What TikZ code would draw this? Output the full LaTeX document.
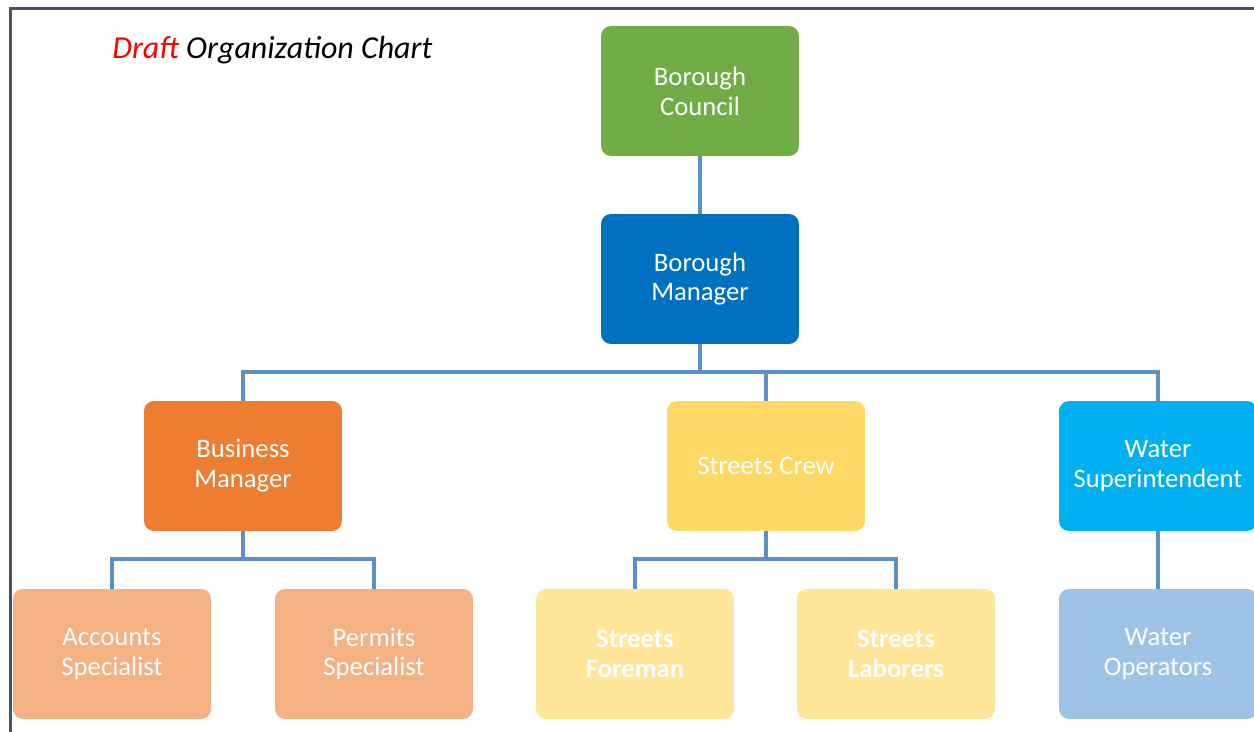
\documentclass[tikz,border=0pt]{standalone}
\usepackage{fontspec}
\setmainfont{Carlito}
\usepackage{xcolor}

\definecolor{frameline}{HTML}{44546A}
\definecolor{linkblue}{HTML}{5B8FC7}
\definecolor{councilgreen}{HTML}{70AD47}
\definecolor{managerblue}{HTML}{0070C0}
\definecolor{bizorange}{HTML}{ED7D31}
\definecolor{crewyellow}{HTML}{FFD966}
\definecolor{watercyan}{HTML}{00B0F0}
\definecolor{lightorange}{HTML}{F4B183}
\definecolor{lightyellow}{HTML}{FFE699}
\definecolor{lightblue}{HTML}{9DC3E6}

\begin{document}
\begin{tikzpicture}[x=0.02cm, y=-0.02cm,
    role/.style={rounded corners=0.2cm, minimum width=3.96cm, minimum height=2.6cm,
      inner sep=0pt, text=white, align=center,
      font=\fontsize{15.2}{17}\selectfont},
    link/.style={draw=linkblue, line width=1.8pt}]
    \useasboundingbox (0,0) rectangle (1254,732);
    \clip (0,0) rectangle (1254,732);

    % page frame
    \draw[frameline, line width=1.5pt] (10.5,740) -- (10.5,8.5) -- (1260,8.5);
    \node[anchor=west, inner sep=0pt, font=\fontsize{18.2}{21}\selectfont\itshape] (title) at (112,50)
        {\textcolor{red}{Draft} Organization Chart};

    % top of the chart
    \node[role, fill=councilgreen] (council) at (700,91) {Borough\\Council};
    \node[role, fill=managerblue] (manager) at (700,279) {Borough\\Manager};

    % department heads
    \node[role, fill=bizorange] (business) at (243,466) {Business\\Manager};
    \node[role, fill=crewyellow] (crew) at (766,466) {Streets Crew};
    \node[role, fill=watercyan] (water) at (1158,466) {Water\\Superintendent};

    % staff
    \node[role, fill=lightorange] (accounts) at (112,654) {Accounts\\Specialist};
    \node[role, fill=lightorange] (permits) at (374,654) {Permits\\Specialist};
    \node[role, fill=lightyellow, font=\fontsize{15.2}{17}\selectfont\bfseries] (foreman) at (635,654) {Streets\\Foreman};
    \node[role, fill=lightyellow, font=\fontsize{15.2}{17}\selectfont\bfseries] (laborers) at (896,654) {Streets\\Laborers};
    \node[role, fill=lightblue] (operators) at (1158,654) {Water\\Operators};

    % connectors
    \coordinate (mbus) at (700,372);
    \coordinate (bbus) at (243,559);
    \coordinate (cbus) at (766,559);
    \draw[link] (council) -- (manager);
    \draw[link] (manager) -- (mbus);
    \draw[link] (business.north) |- (mbus) -| (water.north);
    \draw[link] (crew.north) |- (mbus);
    \draw[link] (business) -- (bbus);
    \draw[link] (accounts.north) |- (bbus) -| (permits.north);
    \draw[link] (crew) -- (cbus);
    \draw[link] (foreman.north) |- (cbus) -| (laborers.north);
    \draw[link] (water) -- (operators);
\end{tikzpicture}
\end{document}
